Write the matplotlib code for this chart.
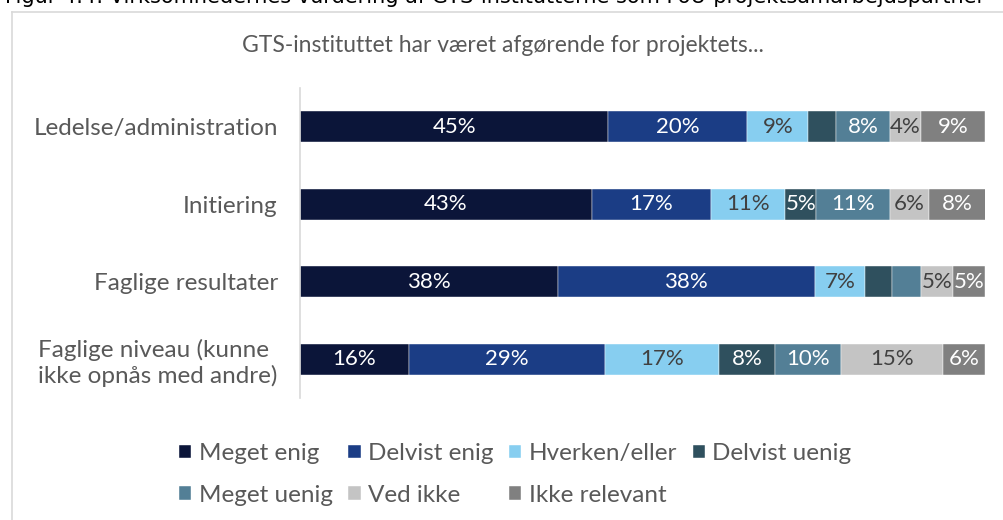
import matplotlib
matplotlib.use('Agg')
import matplotlib.pyplot as plt
from matplotlib.lines import Line2D
import numpy as np

plt.rcParams['font.family'] = ['Lato', 'DejaVu Sans']

categories = ['Ledelse/administration', 'Initiering', 'Faglige resultater',
              'Faglige niveau (kunne\nikke opnås med andre)']
series = ['Meget enig', 'Delvist enig', 'Hverken/eller', 'Delvist uenig',
          'Meget uenig', 'Ved ikke', 'Ikke relevant']

meget_enig = [45.0, 42.6, 37.6, 15.9]
delvist_enig = [20.3, 17.4, 37.6, 28.6]
hverken_eller = [8.9, 10.8, 7.3, 16.7]
delvist_uenig = [4.0, 4.6, 3.9, 8.2]
meget_uenig = [8.0, 10.8, 4.2, 9.6]
ved_ikke = [4.4, 5.6, 4.7, 14.8]
ikke_relevant = [9.4, 8.4, 4.7, 6.2]

# which segments carry a value label (as in the original)
show_label = [
    [1, 1, 1, 0, 1, 1, 1],
    [1, 1, 1, 1, 1, 1, 1],
    [1, 1, 1, 0, 0, 1, 1],
    [1, 1, 1, 1, 1, 1, 1],
]

colors = ['#0b1539', '#1b3d85', '#87cef0', '#2f505e', '#537f96', '#c4c4c4', '#808080']
text_colors = ['white', 'white', '#404040', 'white', 'white', '#404040', 'white']

title = 'GTS-instituttet har været afgørende for projektets...'
caption = ('Figur 4.4: Virksomhedernes vurdering af GTS-institutterne som '
           'FoU-projektsamarbejdspartner')

data = np.array([meget_enig, delvist_enig, hverken_eller, delvist_uenig,
                 meget_uenig, ved_ikke, ikke_relevant])

fig = plt.figure(figsize=(10.04, 5.2), dpi=100)
ax = fig.add_axes([300 / 1004, 1 - 398 / 520, 685 / 1004, 310 / 520])

y = np.arange(len(categories))
left = np.zeros(len(categories))
handles = []
for i, name in enumerate(series):
    bars = ax.barh(y, data[i], left=left, height=0.4, color=colors[i],
                   edgecolor='white', linewidth=0.3, label=name)
    handles.append(bars)
    for j, b in enumerate(bars):
        if show_label[j][i]:
            ax.text(left[j] + data[i][j] / 2, y[j], f'{data[i][j]:.0f}%',
                    ha='center', va='center', fontsize=16, color=text_colors[i])
    left += data[i]

ax.set_xlim(0, 100)
ax.set_ylim(3.5, -0.5)
ax.set_yticks(y)
ax.set_yticklabels(categories, fontsize=17.5, color='#595959', multialignment='left')
ax.tick_params(axis='y', length=0, pad=16)
ax.set_xticks([])
for s in ['top', 'right', 'bottom']:
    ax.spines[s].set_visible(False)
ax.spines['left'].set_color('#d9d9d9')
ax.spines['left'].set_linewidth(1.2)

fig.text(503 / 1004, 1 - 46 / 520, title, ha='center', va='center',
         fontsize=16.5, color='#595959')

# cropped caption at top and the frame
fig.text(5 / 1004, 1 - 3 / 520, caption, ha='left', va='baseline',
         fontsize=15, color='black', family='DejaVu Sans')
fig.add_artist(Line2D([12 / 1004, 12 / 1004], [0, 1 - 12 / 520],
                      transform=fig.transFigure, color='#d9d9d9', lw=1.2))
fig.add_artist(Line2D([12 / 1004, 1], [1 - 12 / 520, 1 - 12 / 520],
                      transform=fig.transFigure, color='#d9d9d9', lw=1.2))

# legend filled row by row like the original
order = [0, 4, 1, 5, 2, 6, 3]
leg = fig.legend([handles[k] for k in order], [series[k] for k in order],
                 loc='upper left', bbox_to_anchor=(167 / 1004, 1 - 431 / 520),
                 ncol=4, frameon=False, fontsize=17.5, handlelength=0.5,
                 handleheight=0.5, handletextpad=0.3, columnspacing=0.65,
                 labelspacing=0.85, borderpad=0)
for t in leg.get_texts():
    t.set_color('#595959')

fig.savefig('out.png', dpi=100)
